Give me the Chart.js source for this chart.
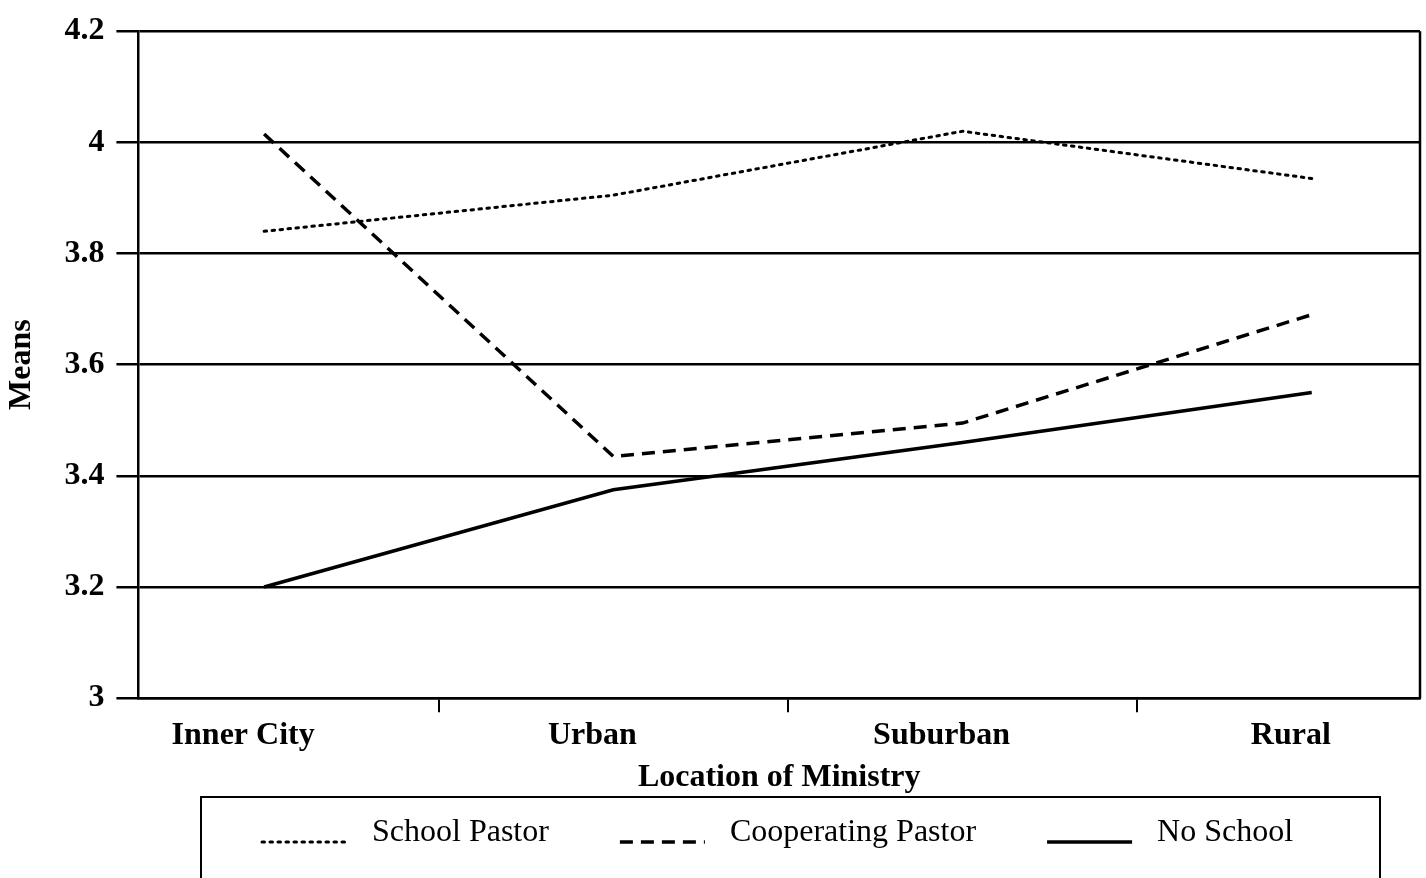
<!DOCTYPE html>
<html>
<head>
<meta charset="utf-8">
<script src="https://cdn.jsdelivr.net/npm/chart.js@4/dist/chart.umd.min.js"></script>
<style>
  html, body { margin: 0; padding: 0; background: #fff; }
  #wrap { width: 1426px; height: 878px; }
</style>
</head>
<body>
<div id="wrap"><canvas id="c" width="1426" height="878"></canvas></div>
<script>
// categories and series means
var categories = ["Inner City", "Urban", "Suburban", "Rural"];
var schoolPastor = [3.84, 3.905, 4.02, 3.935];
var cooperatingPastor = [4.015, 3.435, 3.495, 3.69];
var noSchool = [3.2, 3.375, 3.46, 3.55];
var yTicks = [3, 3.2, 3.4, 3.6, 3.8, 4, 4.2];

function points(vals) {
    var r = [];
    for (var i = 0; i < vals.length; i++) r.push({x: i, y: vals[i]});
    return r;
}

var FAMILY = "'Liberation Serif', 'DejaVu Serif', serif";
var serifBold = {family: FAMILY, size: 32, weight: "bold"};

// right border of the plot, and a boxed legend under the axis title
var framePlugin = {
    id: "frame",
    afterDraw: function(chart) {
        var ctx = chart.ctx, a = chart.chartArea;
        ctx.save();
        ctx.strokeStyle = "#000";
        ctx.lineWidth = 2.5;
        ctx.beginPath();
        ctx.moveTo(a.right, a.top);
        ctx.lineTo(a.right, a.bottom);
        ctx.stroke();

        ctx.lineWidth = 2;
        ctx.strokeRect(201, 797, 1179, 200);

        ctx.font = "32px " + FAMILY;
        ctx.fillStyle = "#000";
        ctx.textBaseline = "middle";
        ctx.textAlign = "left";
        var x = 262, y = 833;
        chart.data.datasets.forEach(function(ds) {
            ctx.beginPath();
            ctx.setLineDash(ds.borderDash || []);
            ctx.lineCap = ds.borderCapStyle || "butt";
            ctx.lineWidth = ds.borderWidth;
            ctx.moveTo(x, y + 9);
            ctx.lineTo(x + 85, y + 9);
            ctx.stroke();
            ctx.setLineDash([]);
            ctx.fillText(ds.label, x + 110, y);
            x += 110 + ctx.measureText(ds.label).width + 71;
        });
        ctx.restore();
    }
};

var xMin = -0.36, xMax = 3.31;

new Chart(document.getElementById("c"), {
    type: "line",
    data: {
        datasets: [{
            label: "School Pastor",
            data: points(schoolPastor),
            borderColor: "#000",
            borderWidth: 3,
            borderDash: [2.5, 5.5],
            borderCapStyle: "round",
            pointRadius: 0,
            tension: 0
        }, {
            label: "Cooperating Pastor",
            data: points(cooperatingPastor),
            borderColor: "#000",
            borderWidth: 3.5,
            borderDash: [13, 8],
            pointRadius: 0,
            tension: 0
        }, {
            label: "No School",
            data: points(noSchool),
            borderColor: "#000",
            borderWidth: 3.5,
            pointRadius: 0,
            tension: 0
        }]
    },
    options: {
        responsive: false,
        animation: false,
        layout: {padding: {top: 10, right: 6, left: 0, bottom: 81}},
        plugins: {
            tooltip: {enabled: false},
            legend: {display: false}
        },
        scales: {
            x: {
                type: "linear",
                min: xMin,
                max: xMax,
                weight: 0,
                afterBuildTicks: function(s) {
                    s.ticks = [{value: 0.5}, {value: 1.5}, {value: 2.5}];
                },
                ticks: {display: false},
                grid: {drawOnChartArea: false, drawTicks: true, tickLength: 14, color: "#000", lineWidth: 2},
                border: {display: true, color: "#000", width: 2.5}
            },
            xLabels: {
                type: "linear",
                position: "bottom",
                axis: "x",
                min: xMin + 0.06,
                max: xMax + 0.06,
                weight: 1,
                afterBuildTicks: function(s) {
                    s.ticks = categories.map(function(c, i) { return {value: i}; });
                },
                ticks: {
                    color: "#000",
                    font: serifBold,
                    padding: 4,
                    maxRotation: 0,
                    autoSkip: false,
                    callback: function(v) { return categories[v]; }
                },
                grid: {display: false, drawTicks: false},
                border: {display: false},
                title: {
                    display: true,
                    text: "Location of Ministry",
                    color: "#000",
                    font: serifBold,
                    padding: {top: 0, bottom: 0}
                }
            },
            y: {
                min: 3,
                max: 4.2,
                afterBuildTicks: function(s) {
                    s.ticks = yTicks.map(function(v) { return {value: v}; });
                },
                ticks: {
                    color: "#000",
                    font: serifBold,
                    padding: 12,
                    callback: function(v) { return String(v); }
                },
                grid: {color: "#000", lineWidth: 2.5, tickLength: 22},
                border: {display: true, color: "#000", width: 2.5},
                title: {
                    display: true,
                    text: "Means",
                    color: "#000",
                    font: serifBold,
                    padding: {top: 3, bottom: 11}
                }
            }
        }
    },
    plugins: [framePlugin]
});
</script>
</body>
</html>
